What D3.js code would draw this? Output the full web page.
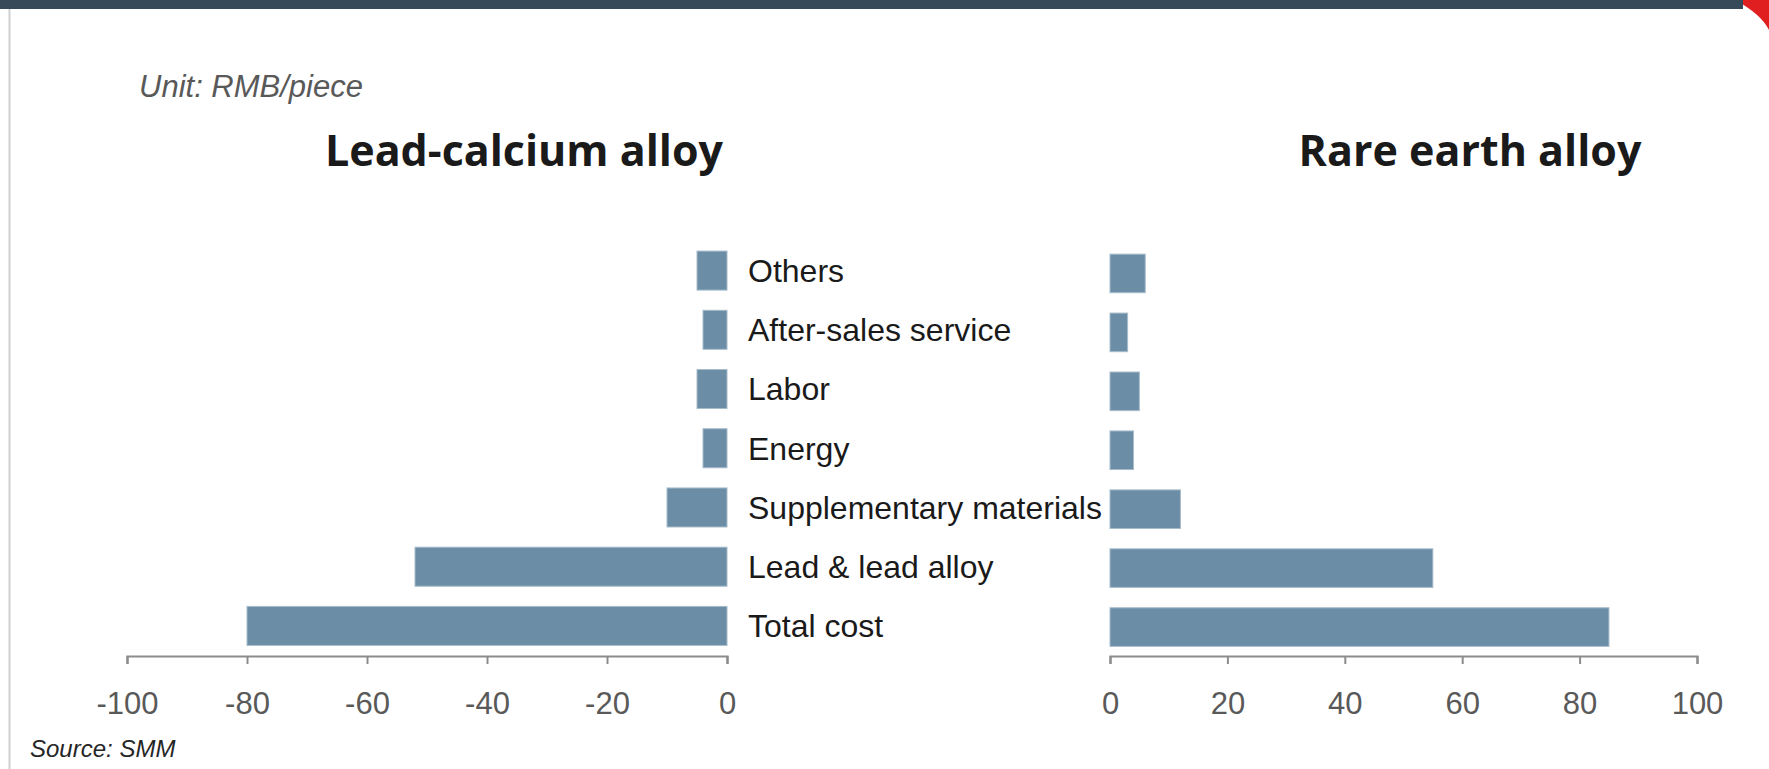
<!DOCTYPE html>
<html>
<head>
<meta charset="utf-8">
<script src="https://cdn.jsdelivr.net/npm/d3@7"></script>
<style>
  html, body { margin: 0; padding: 0; background: #ffffff; }
  svg { display: block; }
</style>
</head>
<body>
<svg id="chart" width="1769" height="769"></svg>
<script>
// ---- data ----
const categories = ["Others", "After-sales service", "Labor", "Energy", "Supplementary materials", "Lead & lead alloy", "Total cost"];
const leadCalcium = [5, 4, 5, 4, 10, 52, 80];      // plotted to the left (negative)
const rareEarth   = [6, 3, 5, 4, 12, 55, 85];
const leftTicks  = [-100, -80, -60, -40, -20, 0];
const rightTicks = [0, 20, 40, 60, 80, 100];
const titleLeft = "Lead-calcium alloy";
const titleRight = "Rare earth alloy";
const unitText = "Unit: RMB/piece";
const sourceText = "Source: SMM";

const svg = d3.select("#chart");
const W = 1769, H = 769;
const barColor = "#6b8ea6";
const axisColor = "#8c8c8c";
const tickTextColor = "#595959";

// frame decorations
svg.append("path").attr("d", `M${W - 34},0 L${W},0 L${W},30 Q${W - 8},14 ${W - 34},0 Z`).attr("fill", "#e02020");
svg.append("rect").attr("x", 0).attr("y", 0).attr("width", W - 26).attr("height", 9).attr("fill", "#374a5a");
svg.append("line").attr("x1", 9.5).attr("x2", 9.5).attr("y1", 9).attr("y2", H).attr("stroke", "#d0d0d0").attr("stroke-width", 2);

// scales
const xLeft = d3.scaleLinear().domain([-100, 0]).range([127, 727]);
const xRight = d3.scaleLinear().domain([0, 100]).range([1110, 1697]);
const yLeft = d3.scaleBand().domain(categories).range([241, 655.5]).paddingInner(0.341).paddingOuter(0.17);
const yRight = d3.scaleBand().domain(categories).range([244, 656.5]).paddingInner(0.345).paddingOuter(0.172);
const axisY = 656;

// left bars
svg.append("g").selectAll("rect").data(categories).join("rect")
  .attr("x", (d, i) => xLeft(-leadCalcium[i]))
  .attr("y", d => yLeft(d))
  .attr("width", (d, i) => xLeft(0) - xLeft(-leadCalcium[i]))
  .attr("height", yLeft.bandwidth())
  .attr("fill", barColor)
  .attr("stroke", "#a7bccb").attr("stroke-width", 1);

// right bars
svg.append("g").selectAll("rect").data(categories).join("rect")
  .attr("x", xRight(0))
  .attr("y", d => yRight(d))
  .attr("width", (d, i) => xRight(rareEarth[i]) - xRight(0))
  .attr("height", yRight.bandwidth())
  .attr("fill", barColor)
  .attr("stroke", "#a7bccb").attr("stroke-width", 1);

// axes
function styleAxis(g) {
  g.select(".domain").attr("stroke", axisColor).attr("stroke-width", 2.2);
  g.selectAll(".tick line").attr("stroke", axisColor).attr("stroke-width", 2);
  g.selectAll(".tick text")
    .attr("fill", tickTextColor)
    .attr("font-family", "'Liberation Sans', Arial, sans-serif")
    .attr("font-size", 31)
    .attr("dy", "0")
    .attr("y", 50)
    .attr("dominant-baseline", "middle");
}
const axL = d3.axisBottom(xLeft).tickValues(leftTicks).tickSize(8).tickSizeOuter(8).tickFormat(d3.format("d"));
svg.append("g").attr("transform", `translate(0,${axisY})`).call(axL).call(styleAxis);
const axR = d3.axisBottom(xRight).tickValues(rightTicks).tickSize(8).tickSizeOuter(8).tickFormat(d3.format("d"));
svg.append("g").attr("transform", `translate(0,${axisY})`).call(axR).call(styleAxis);
// plain hyphen-minus like the reference
svg.selectAll(".tick text").text(d => String(d));

// category labels (between the panels)
svg.append("g").selectAll("text").data(categories).join("text")
  .attr("x", 748)
  .attr("y", d => yLeft(d) + yLeft.bandwidth() / 2 + 3)
  .attr("dominant-baseline", "middle")
  .attr("font-family", "'Liberation Sans', Arial, sans-serif")
  .attr("font-size", 32)
  .attr("fill", "#1a1a1a")
  .text(d => d);

// titles
svg.append("text").attr("x", 524).attr("y", 165.5).attr("text-anchor", "middle")
  .attr("font-family", "'Open Sans', 'Noto Sans', sans-serif").attr("font-weight", 700)
  .attr("font-size", 43).attr("fill", "#1a1a1a").text(titleLeft);
svg.append("text").attr("x", 1470).attr("y", 165.5).attr("text-anchor", "middle")
  .attr("font-family", "'Open Sans', 'Noto Sans', sans-serif").attr("font-weight", 700)
  .attr("font-size", 43).attr("fill", "#1a1a1a").text(titleRight);

// unit and source
svg.append("text").attr("x", 139).attr("y", 89).attr("dominant-baseline", "middle")
  .attr("font-family", "'Liberation Sans', Arial, sans-serif").attr("font-style", "italic")
  .attr("font-size", 31).attr("fill", "#595959").text(unitText);
svg.append("text").attr("x", 30).attr("y", 751).attr("dominant-baseline", "middle")
  .attr("font-family", "'Liberation Sans', Arial, sans-serif").attr("font-style", "italic")
  .attr("font-size", 24).attr("fill", "#262626").text(sourceText);
</script>
</body>
</html>
